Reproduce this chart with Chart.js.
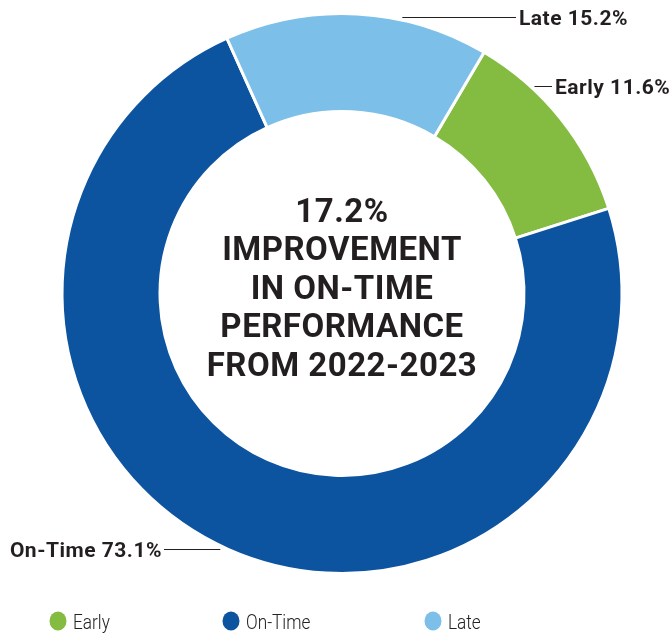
<!DOCTYPE html>
<html>
<head>
<meta charset="utf-8">
<title>On-Time Performance</title>
<script src="https://cdn.jsdelivr.net/npm/chart.js@4.4.1/dist/chart.umd.min.js"></script>
<style>
    html, body { margin: 0; padding: 0; background: #ffffff; }
    canvas { display: block; }
</style>
</head>
<body>
<canvas id="donut" width="671" height="644"></canvas>
<script>
// Chart data
const categories = ['Early', 'On-Time', 'Late'];
const shares = [11.6, 73.1, 15.2];
const sliceColors = ['#84bb41', '#0d54a0', '#7cbfe8'];
const headline = ['17.2%', 'IMPROVEMENT', 'IN ON-TIME', 'PERFORMANCE', 'FROM 2022-2023'];

// Callout placement (leader line y, text anchor x, which side of the ring)
const callouts = [
    { y: 86, textX: 555, side: 'right' },
    { y: 549, textX: 162, side: 'left' },
    { y: 17, textX: 519, side: 'right' }
];

// Legend item positions (marker centre x)
const legendX = [58, 231, 433];
const legendY = 621;

const textColor = '#231f20';

// Big headline inside the hole
const centerTextPlugin = {
    id: 'centerText',
    afterDatasetsDraw(chart) {
        const arc = chart.getDatasetMeta(0).data[0];
        if (!arc) return;
        const ctx = chart.ctx;
        ctx.save();
        ctx.font = 'bold 33px Roboto, "Liberation Sans", sans-serif';
        ctx.letterSpacing = '0.5px';
        ctx.fillStyle = textColor;
        ctx.textAlign = 'center';
        ctx.textBaseline = 'alphabetic';
        const lineHeight = 38.5;
        const firstMid = arc.y - 84;
        headline.forEach((line, i) => {
            ctx.fillText(line, arc.x, firstMid + i * lineHeight + 12);
        });
        ctx.restore();
    }
};

// Leader lines with category + percentage labels
const calloutPlugin = {
    id: 'callouts',
    afterDatasetsDraw(chart) {
        const arc = chart.getDatasetMeta(0).data[0];
        if (!arc) return;
        const ctx = chart.ctx;
        const cx = arc.x, cy = arc.y, r = arc.outerRadius + 3;
        ctx.save();
        ctx.font = 'bold 21px Roboto, "Liberation Sans", sans-serif';
        ctx.letterSpacing = '0.5px';
        ctx.fillStyle = textColor;
        ctx.strokeStyle = textColor;
        ctx.lineWidth = 1;
        ctx.textBaseline = 'alphabetic';
        callouts.forEach((c, i) => {
            const label = categories[i] + ' ' + shares[i].toFixed(1) + '%';
            const dy = c.y - cy;
            const dx = Math.sqrt(Math.max(r * r - dy * dy, 0));
            let x1, x2;
            if (c.side === 'right') {
                x1 = cx + dx;
                x2 = c.textX - 3;
                ctx.textAlign = 'left';
            } else {
                x1 = c.textX + 2;
                x2 = cx - dx;
                ctx.textAlign = 'right';
            }
            ctx.beginPath();
            ctx.moveTo(x1, c.y + 0.5);
            ctx.lineTo(x2, c.y + 0.5);
            ctx.stroke();
            ctx.fillText(label, c.textX, c.y + 7.5);
        });
        ctx.restore();
    }
};

// Bottom legend with round markers
const legendPlugin = {
    id: 'bottomLegend',
    afterDraw(chart) {
        const ctx = chart.ctx;
        ctx.save();
        ctx.textBaseline = 'alphabetic';
        ctx.textAlign = 'left';
        categories.forEach((name, i) => {
            const x = legendX[i];
            ctx.fillStyle = sliceColors[i];
            ctx.beginPath();
            ctx.ellipse(x, legendY, 8.5, 9.5, 0, 0, Math.PI * 2);
            ctx.fill();

            ctx.save();
            ctx.translate(x + 15, legendY + 7.5);
            ctx.scale(0.82, 1);
            ctx.font = '300 21px Roboto, "Open Sans", sans-serif';
            ctx.fillStyle = '#222222';
            ctx.fillText(name, 0, 0);
            ctx.restore();
        });
        ctx.restore();
    }
};

const ctx = document.getElementById('donut').getContext('2d');
const chart = new Chart(ctx, {
    type: 'doughnut',
    data: {
        labels: categories,
        datasets: [{
            data: shares,
            backgroundColor: sliceColors,
            borderColor: '#ffffff',
            borderWidth: 3
        }]
    },
    options: {
        responsive: false,
        animation: false,
        cutout: '65%',
        rotation: 30.5,
        layout: {
            padding: { top: 12, left: 13, right: 0, bottom: 69 }
        },
        plugins: {
            legend: { display: false },
            tooltip: { enabled: false }
        }
    },
    plugins: [centerTextPlugin, calloutPlugin, legendPlugin]
});
</script>
</body>
</html>
